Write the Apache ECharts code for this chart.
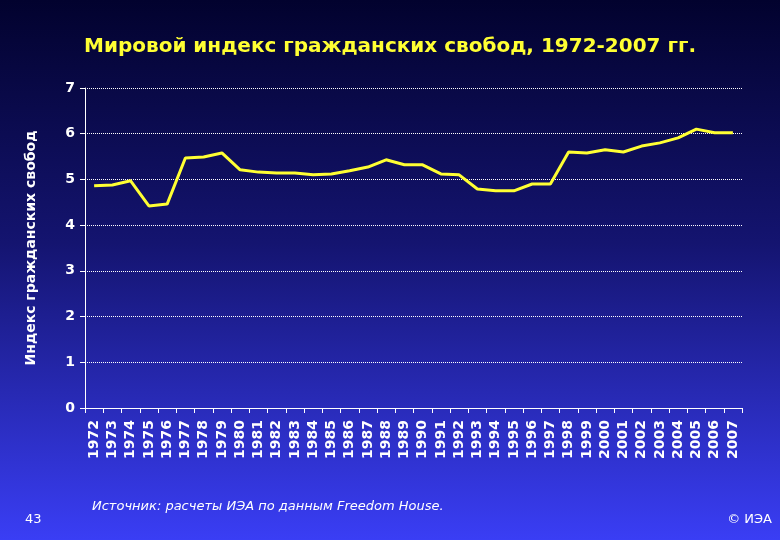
<!DOCTYPE html>
<html><head><meta charset="utf-8">
<script src="https://cdn.jsdelivr.net/npm/echarts@6/dist/echarts.min.js"></script>
<style>
html,body{margin:0;padding:0;}
#chart{width:780px;height:540px;background:linear-gradient(to bottom,#02022e 0%,#141470 45%,#3a3ef5 100%);}
</style></head>
<body><div id="chart"></div>
<script>
var years = [];
for (var y = 1972; y <= 2007; y++) years.push(String(y));
var values = [4.86, 4.88, 4.97, 4.42, 4.46, 5.47, 5.49, 5.58, 5.21, 5.16, 5.14, 5.14,
    5.10, 5.12, 5.19, 5.27, 5.43, 5.32, 5.32, 5.12, 5.10, 4.79, 4.75, 4.75,
    4.90, 4.90, 5.60, 5.58, 5.65, 5.60, 5.73, 5.80, 5.91, 6.10, 6.02, 6.02];

var font = 'DejaVu Sans';
var myChart = echarts.init(document.getElementById('chart'));
var option = {
    backgroundColor: 'transparent',
    title: {
        text: 'Мировой индекс гражданских свобод, 1972-2007 гг.',
        left: 'center', top: 32,
        textStyle: {color: '#ffff33', fontSize: 20, fontWeight: 'bold', fontFamily: font}
    },
    grid: {left: 85, right: 38, top: 88, bottom: 132},
    xAxis: {
        type: 'category', data: years, boundaryGap: true,
        axisLine: {lineStyle: {color: '#ffffff', width: 1}},
        axisTick: {show: true, alignWithLabel: false, lineStyle: {color: '#ffffff'}},
        axisLabel: {color: '#ffffff', rotate: 90, interval: 0, fontSize: 14, fontWeight: 'bold', fontFamily: font, margin: 12}
    },
    yAxis: {
        type: 'value', min: 0, max: 7, interval: 1,
        name: 'Индекс гражданских свобод', nameLocation: 'middle', nameGap: 47, nameRotate: 90,
        nameTextStyle: {color: '#ffffff', fontSize: 14, fontWeight: 'bold', fontFamily: font},
        axisLine: {show: true, lineStyle: {color: '#ffffff'}},
        axisTick: {show: true, lineStyle: {color: '#ffffff'}},
        axisLabel: {color: '#ffffff', fontSize: 14, fontWeight: 'bold', fontFamily: font, margin: 10},
        splitLine: {lineStyle: {color: '#ffffff', type: 'dotted', width: 1}}
    },
    series: [{
        type: 'line', data: values, symbol: 'none',
        lineStyle: {color: '#ffff33', width: 3}
    }],
    graphic: [
        {type: 'text', left: 92, top: 500, style: {text: 'Источник: расчеты ИЭА по данным Freedom House.', fill: '#ffffff', font: 'italic 13px DejaVu Sans'}},
        {type: 'text', left: 25, top: 513, style: {text: '43', fill: '#ffffff', font: '13px DejaVu Sans'}},
        {type: 'text', right: 8, top: 513, style: {text: '© ИЭА', fill: '#ffffff', font: '13px DejaVu Sans'}}
    ]
};
myChart.setOption(option);
</script></body></html>
